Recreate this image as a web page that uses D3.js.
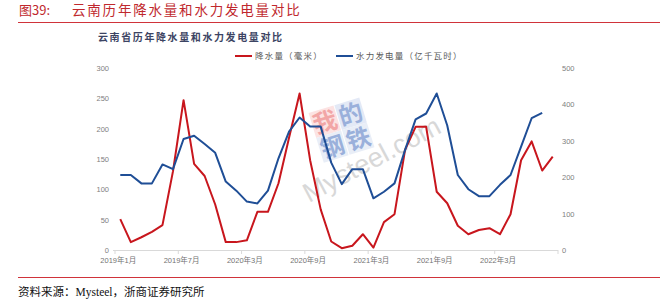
<!DOCTYPE html>
<html lang="zh">
<head>
<meta charset="UTF-8">
<script src="https://d3js.org/d3.v7.min.js"></script>
<title>云南历年降水量和水力发电量对比</title>
<style>
  body { margin: 0; background: #fff; }
  svg { display: block; }
  .tick text { fill: #808080; }
</style>
</head>
<body>
<div id="chart"></div>
<script>
// months shown on the x axis (2020年1-2月 missing in the source)
const months = [
  "2019年1月","2019年2月","2019年3月","2019年4月","2019年5月","2019年6月","2019年7月","2019年8月","2019年9月","2019年10月","2019年11月","2019年12月",
  "2020年3月","2020年4月","2020年5月","2020年6月","2020年7月","2020年8月","2020年9月","2020年10月","2020年11月","2020年12月",
  "2021年1月","2021年2月","2021年3月","2021年4月","2021年5月","2021年6月","2021年7月","2021年8月","2021年9月","2021年10月","2021年11月","2021年12月",
  "2022年1月","2022年2月","2022年3月","2022年4月","2022年5月","2022年6月","2022年7月","2022年8月"
];
// 降水量（毫米）, left axis
const rain = [51, 13, 21, 30, 41, 130, 247, 142, 122, 75, 13, 13,
  16, 63, 63, 110, 185, 258, 148, 67, 14, 3,
  7, 26, 4, 46, 59, 165, 203, 203, 96, 77, 40, 26,
  33, 36, 26, 59, 148, 179, 131, 154];
// 水力发电量（亿千瓦时）, right axis
const hydro = [206, 206, 183, 183, 235, 222, 305, 314, 291, 267, 188, 163,
  133, 128, 163, 252, 325, 364, 339, 339, 240, 181,
  222, 222, 142, 160, 183, 275, 359, 375, 430, 342, 206, 167,
  148, 148, 179, 206, 284, 362, 377];
const leftTicks = [0, 50, 100, 150, 200, 250, 300];
const rightTicks = [0, 100, 200, 300, 400, 500];
const labelEvery = 6;

const W = 671, H = 305;
const plot = { left: 115, right: 558, top: 68, bottom: 250 };
const red = "#c8161d", blue = "#1f4e96";
const cjk = "'Noto Sans CJK SC', sans-serif";
const num = "'Liberation Sans', 'Noto Sans CJK SC', sans-serif";

const svg = d3.select("#chart").append("svg").attr("width", W).attr("height", H);

// report header and footer
svg.append("text").attr("x", 19).attr("y", 15).attr("fill", "#c0282d")
  .style("font-family", cjk).style("font-size", "13px").text("图39:");
svg.append("text").attr("x", 72).attr("y", 15).attr("fill", "#c0282d")
  .style("font-family", cjk).style("font-size", "13.5px").style("letter-spacing", "1.8px")
  .text("云南历年降水量和水力发电量对比");
svg.append("line").attr("x1", 18).attr("x2", 660).attr("y1", 22.5).attr("y2", 22.5)
  .attr("stroke", "#d0333a").attr("stroke-width", 1);
svg.append("line").attr("x1", 18).attr("x2", 660).attr("y1", 277.5).attr("y2", 277.5)
  .attr("stroke", "#d0333a").attr("stroke-width", 1);
svg.append("text").attr("x", 18).attr("y", 296).attr("fill", "#111")
  .style("font-family", "'Liberation Serif', 'Noto Sans CJK SC', serif").style("font-size", "11.5px")
  .text("资料来源：Mysteel，浙商证券研究所");

// chart title
svg.append("text").attr("x", 98).attr("y", 41).attr("fill", "#3c4463")
  .style("font-family", cjk).style("font-size", "10px").style("font-weight", "bold")
  .style("letter-spacing", "1.6px").text("云南省历年降水量和水力发电量对比");

// watermark (drawn under the lines)
svg.append("text").attr("transform", "translate(309,203) rotate(-28)").attr("fill", "#d8d8d8")
  .style("font-family", num).style("font-size", "27px").text("Mysteel.com");
const wm = svg.append("g").attr("transform", "translate(342,130) rotate(-17)");
const cells = [
  { t: "我", x: -14, y: -13, bg: "#fce3e3", fg: "#f2a6a6" },
  { t: "的", x: 13, y: -13, bg: "#e3e9f6", fg: "#9ab0db" },
  { t: "钢", x: -14, y: 13, bg: "#e9eef7", fg: "#9ab0db" },
  { t: "铁", x: 13, y: 13, bg: "#e9eef7", fg: "#9ab0db" }
];
wm.selectAll("rect").data(cells).join("rect")
  .attr("x", d => d.x - 13).attr("y", d => d.y - 13).attr("width", 26).attr("height", 26)
  .attr("fill", d => d.bg);
wm.selectAll("text").data(cells).join("text")
  .attr("x", d => d.x).attr("y", d => d.y + 9).attr("text-anchor", "middle")
  .attr("fill", d => d.fg).style("font-family", cjk).style("font-size", "24px").style("font-weight", "bold")
  .text(d => d.t);

// scales
const x = d3.scaleBand().domain(months).range([plot.left, plot.right]).paddingInner(0).paddingOuter(0);
const cx = d => x(d) + x.bandwidth() / 2;
const yL = d3.scaleLinear().domain([0, 300]).range([plot.bottom, plot.top]);
const yR = d3.scaleLinear().domain([0, 500]).range([plot.bottom, plot.top]);

// left axis
const gl = svg.append("g").attr("transform", `translate(${plot.left - 2},0)`)
  .call(d3.axisLeft(yL).tickValues(leftTicks).tickSize(0).tickPadding(4));
gl.select(".domain").remove();
gl.selectAll("text").style("font-family", num).style("font-size", "7.5px");

// right axis
const gr = svg.append("g").attr("transform", `translate(${plot.right},0)`)
  .call(d3.axisRight(yR).tickValues(rightTicks).tickSize(0).tickPadding(4));
gr.select(".domain").remove();
gr.selectAll("text").style("font-family", num).style("font-size", "7.5px");

// bottom axis: ticks between categories, labels under every 6th month
svg.append("line").attr("x1", plot.left - 2).attr("x2", plot.right).attr("y1", plot.bottom + 0.5).attr("y2", plot.bottom + 0.5)
  .attr("stroke", "#d9d9d9");
const labelled = months.filter((m, i) => i % labelEvery === 0);
const tickX = labelled.map(m => x(m)).concat([plot.right]);
svg.append("g").selectAll("line").data(tickX).join("line")
  .attr("x1", d => d).attr("x2", d => d).attr("y1", plot.bottom).attr("y2", plot.bottom + 4)
  .attr("stroke", "#d9d9d9");
svg.append("g").selectAll("text").data(labelled).join("text")
  .attr("x", d => cx(d) - 2).attr("y", plot.bottom + 13).attr("text-anchor", "middle")
  .attr("fill", "#737373").style("font-family", num).style("font-size", "7.5px")
  .text(d => d);

// series
const lineL = d3.line().x((d, i) => cx(months[i])).y(d => yL(d));
const lineR = d3.line().x((d, i) => cx(months[i])).y(d => yR(d));
svg.append("path").datum(rain).attr("d", lineL).attr("fill", "none")
  .attr("stroke", red).attr("stroke-width", 2).attr("stroke-linejoin", "round");
svg.append("path").datum(hydro).attr("d", lineR).attr("fill", "none")
  .attr("stroke", blue).attr("stroke-width", 2).attr("stroke-linejoin", "round");

// legend
const legend = [
  { name: "降水量（毫米）", color: red, x: 235 },
  { name: "水力发电量（亿千瓦时）", color: blue, x: 336 }
];
const lg = svg.append("g").selectAll("g").data(legend).join("g")
  .attr("transform", d => `translate(${d.x},56)`);
lg.append("line").attr("x1", 0).attr("x2", 17).attr("stroke", d => d.color).attr("stroke-width", 2);
lg.append("text").attr("x", 20).attr("y", 3).attr("fill", "#595959")
  .style("font-family", cjk).style("font-size", "8.5px").style("letter-spacing", "1.2px")
  .text(d => d.name);
</script>
</body>
</html>
